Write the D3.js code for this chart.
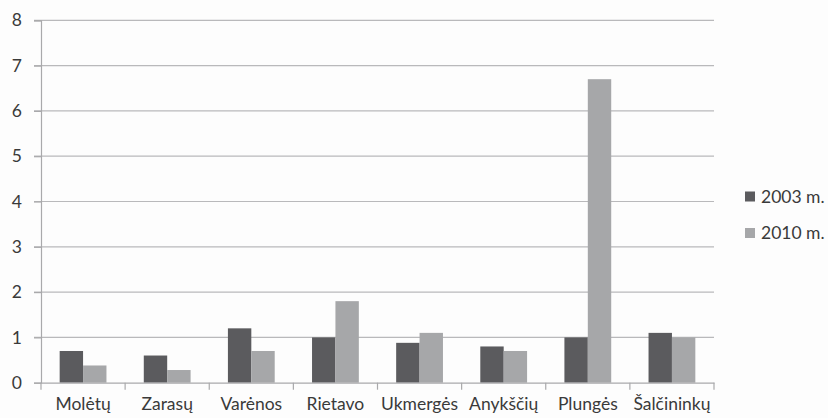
<!DOCTYPE html>
<html><head><meta charset="utf-8">
<script src="https://cdn.jsdelivr.net/npm/d3@7"></script>
<style>body{margin:0;background:#fdfdfd;}svg{display:block;}</style>
</head><body>
<svg id="c" width="828" height="418"></svg>
<script>
const categories = ["Molėtų","Zarasų","Varėnos","Rietavo","Ukmergės","Anykščių","Plungės","Šalčininkų"];
const series2003 = [0.7,0.6,1.2,1.0,0.88,0.8,1.0,1.1];
const series2010 = [0.38,0.28,0.7,1.8,1.1,0.7,6.7,1.0];
const seriesNames = ["2003 m.","2010 m."];
const colors = ["#5b5b5e","#a6a7a9"];
const yTicks = [0,1,2,3,4,5,6,7,8];

const svg = d3.select("#c");
const font = "Lato, 'Open Sans', sans-serif";
const fs = 17.5;
const m = {l:41, r:714, t:20.3, b:382.7};
const x = d3.scaleBand().domain(categories).range([m.l,m.r]);
const y = d3.scaleLinear().domain([0,8]).range([m.b,m.t]);
const bw = 23.4;
const off = (x.bandwidth()-2*bw)/2;

// gridlines
svg.append("g").selectAll("line").data(yTicks.filter(d=>d>0)).join("line")
  .attr("x1",m.l-7).attr("x2",m.r).attr("y1",d=>y(d)).attr("y2",d=>y(d))
  .attr("stroke","#b9b9bb").attr("stroke-width",1.2);

// y axis
const ya = svg.append("g").attr("transform",`translate(${m.l},0)`)
  .call(d3.axisLeft(y).tickValues(yTicks).tickSize(7).tickPadding(12));
ya.select(".domain").attr("stroke","#a9a9ab").attr("stroke-width",1.2);
ya.selectAll(".tick line").attr("stroke","#a9a9ab").attr("stroke-width",1.2);
ya.selectAll("text").attr("font-family",font).attr("font-size",fs).attr("fill","#3a3a3a");

// bars
const data = categories.map((c,i)=>({c, v:[series2003[i],series2010[i]]}));
[0,1].forEach(s=>{
  svg.append("g").selectAll("rect").data(data).join("rect")
    .attr("x",d=>x(d.c)+off+s*bw).attr("width",bw)
    .attr("y",d=>y(d.v[s])).attr("height",d=>y(0)-y(d.v[s]))
    .attr("fill",colors[s]);
});

// x axis
const xa = svg.append("g").attr("transform",`translate(0,${m.b})`)
  .call(d3.axisBottom(x).tickSize(0).tickPadding(15));
xa.select(".domain").attr("stroke","#a9a9ab").attr("stroke-width",1.2);
xa.selectAll("text").attr("font-family",font).attr("font-size",fs).attr("fill","#3a3a3a");
// category separator ticks
svg.append("g").selectAll("line").data(d3.range(categories.length+1)).join("line")
  .attr("x1",i=>m.l+i*x.step()).attr("x2",i=>m.l+i*x.step())
  .attr("y1",m.b).attr("y2",m.b+7).attr("stroke","#a9a9ab").attr("stroke-width",1.2);

// legend
const lg = svg.append("g");
seriesNames.forEach((n,i)=>{
  const cy = 196.5 + i*36.5;
  lg.append("rect").attr("x",745).attr("y",cy-5).attr("width",10).attr("height",10).attr("fill",colors[i]);
  lg.append("text").attr("x",761).attr("y",cy).attr("dy","0.35em")
    .attr("font-family",font).attr("font-size",fs).attr("fill","#3a3a3a").text(n);
});
</script>
</body></html>
